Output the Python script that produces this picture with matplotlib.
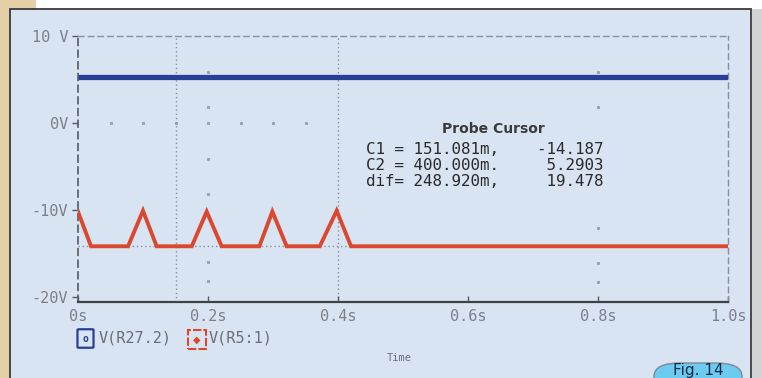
import matplotlib.pyplot as plt
from matplotlib.patches import Rectangle, FancyBboxPatch

# data
time_ticks = [0, 0.2, 0.4, 0.6, 0.8, 1.0]
time_labels = ['0s', '0.2s', '0.4s', '0.6s', '0.8s', '1.0s']
volt_ticks = [-20, -10, 0, 10]
volt_labels = ['-20V', '-10V', '0V', '10 V']

t_blue = [0.0, 1.0]
v_blue = [5.2903, 5.2903]

t_red = [0.0, 0.02, 0.077, 0.1, 0.121, 0.175, 0.198, 0.221,
         0.279, 0.299, 0.321, 0.372, 0.398, 0.42, 1.0]
v_red = [-10.2, -14.19, -14.19, -10.1, -14.19, -14.19, -10.2, -14.19,
         -14.19, -10.2, -14.19, -14.19, -10.1, -14.19, -14.19]

c1_t, c1_v = 0.151081, -14.187
c2_t, c2_v = 0.400000, 5.2903
cursor_lines = ['C1 = 151.081m,    -14.187',
                'C2 = 400.000m.     5.2903',
                'dif= 248.920m,     19.478']

# faint grid dots seen in the trace window
dots_t0 = [0.05, 0.1, 0.15, 0.25, 0.3, 0.35]
dots_02 = [5.9, 1.8, 0, -4.1, -8.2, -16.0, -18.2]
dots_08 = [5.9, 1.8, -12.1, -16.1, -18.3]

W, H = 762, 378
mono = 'DejaVu Sans Mono'


def fx(x):
    return x / W


def fy(y):
    return 1 - y / H


fig = plt.figure(figsize=(W / 100, H / 100), dpi=100)
fig.patch.set_facecolor('#ffffff')

# page background: beige strip on the left, gray strip on the right
fig.patches.append(Rectangle((0, 0), fx(36), 1, transform=fig.transFigure,
                             facecolor='#e5cfa6', edgecolor='none', zorder=0))
fig.patches.append(Rectangle((fx(752), 0), fx(10), fy(9), transform=fig.transFigure,
                             facecolor='#d2d3d6', edgecolor='none', zorder=0))
# light blue panel
fig.patches.append(Rectangle((fx(10), -0.01), fx(741), fy(9) + 0.01,
                             transform=fig.transFigure, facecolor='#d9e4f2',
                             edgecolor='#3a3a3a', linewidth=1.3, zorder=1))

ax = fig.add_axes([fx(78), fy(302), fx(650), (302 - 36) / H])
ax.set_facecolor('none')
ax.set_zorder(2)

ax.set_xlim(0, 1.0)
ax.set_ylim(-20.6, 10)

ax.plot(dots_t0, [0] * len(dots_t0), ls='none', marker='s', ms=1.2, color='#9aa0a8', zorder=1)
ax.plot([0.2] * len(dots_02), dots_02, ls='none', marker='s', ms=1.2, color='#9aa0a8', zorder=1)
ax.plot([0.8] * len(dots_08), dots_08, ls='none', marker='s', ms=1.2, color='#9aa0a8', zorder=1)

# cursor lines
for xc in [c1_t, c2_t]:
    ax.axvline(xc, color='#8a8f98', lw=1.0, ls=(0, (1, 2)), zorder=1)
ax.plot([0, c2_t + 0.03], [c1_v, c1_v], color='#8a8f98', lw=1.0, ls=(0, (1, 2)), zorder=1)
ax.plot([0, 1.0], [c2_v, c2_v], color='#8a8f98', lw=1.0, ls=(0, (1, 2)), zorder=1)

ax.plot(t_blue, v_blue, color='#2b3e96', lw=3.8, solid_capstyle='butt', zorder=3)
ax.plot(t_red, v_red, color='#d9482f', lw=2.8, solid_joinstyle='miter', zorder=3)

for side in ['top', 'right']:
    ax.spines[side].set_linestyle((0, (4, 3)))
    ax.spines[side].set_color('#8a8f98')
    ax.spines[side].set_linewidth(1.0)
ax.spines['left'].set_linestyle((0, (4, 3)))
ax.spines['left'].set_color('#555a62')
ax.spines['left'].set_linewidth(1.2)
ax.spines['bottom'].set_color('#3d4148')
ax.spines['bottom'].set_linewidth(1.6)

ax.set_xticks(time_ticks)
ax.set_xticklabels(time_labels, family=mono, fontsize=11, color='#7c8088')
ax.set_yticks(volt_ticks)
ax.set_yticklabels(volt_labels, family=mono, fontsize=11, color='#7c8088')
ax.tick_params(axis='x', direction='in', length=4, width=1, color='#555a62', pad=5)
ax.tick_params(axis='y', direction='out', length=4, width=1, color='#555a62', pad=3)

# probe cursor box text
fig.text(fx(493), fy(129), 'Probe Cursor', family='DejaVu Sans', fontsize=10,
         fontweight='bold', color='#3a3a3a', ha='center', va='center', zorder=5)
for i, line in enumerate(cursor_lines):
    fig.text(fx(366), fy(149 + 16 * i), line, family=mono, fontsize=11.4,
             color='#2a2a2a', ha='left', va='center', zorder=5)

# legend
fig.patches.append(FancyBboxPatch((fx(79), fy(347)), fx(13), (347 - 330) / H,
                                  boxstyle='round,pad=0.002', transform=fig.transFigure,
                                  facecolor='none', edgecolor='#2b3e96', linewidth=1.6, zorder=5))
fig.text(fx(85.5), fy(339), 'o', family=mono, fontsize=7, color='#2b3e96',
         ha='center', va='center', fontweight='bold', zorder=6)
fig.text(fx(99), fy(338), 'V(R27.2)', family=mono, fontsize=11, color='#6a6e76',
         ha='left', va='center', zorder=5)
fig.patches.append(Rectangle((fx(188), fy(349)), fx(18), (349 - 330) / H,
                             transform=fig.transFigure, facecolor='none',
                             edgecolor='#d9482f', linewidth=1.5, ls=(0, (4, 1)), zorder=5))
fig.text(fx(197), fy(339.5), '\u25c6', family='DejaVu Sans', fontsize=7, color='#d9482f',
         ha='center', va='center', zorder=6)
fig.text(fx(209), fy(338), 'V(R5:1)', family=mono, fontsize=11, color='#6a6e76',
         ha='left', va='center', zorder=5)

fig.text(fx(399), fy(358), 'Time', family=mono, fontsize=7.5, color='#6a6e76',
         ha='center', va='center', zorder=5)

# figure badge at the bottom edge
fig.patches.append(FancyBboxPatch((fx(654), fy(392)), fx(88), (392 - 363) / H,
                                  boxstyle='round,pad=0,rounding_size=0.035',
                                  transform=fig.transFigure, facecolor='#6ccbf0',
                                  edgecolor='#7a8a96', linewidth=1.0, zorder=6))
fig.text(fx(698), fy(370.5), 'Fig. 14', family='DejaVu Sans', fontsize=11,
         color='#1a2a44', ha='center', va='center', zorder=7)

fig.savefig('out.png', dpi=100)
